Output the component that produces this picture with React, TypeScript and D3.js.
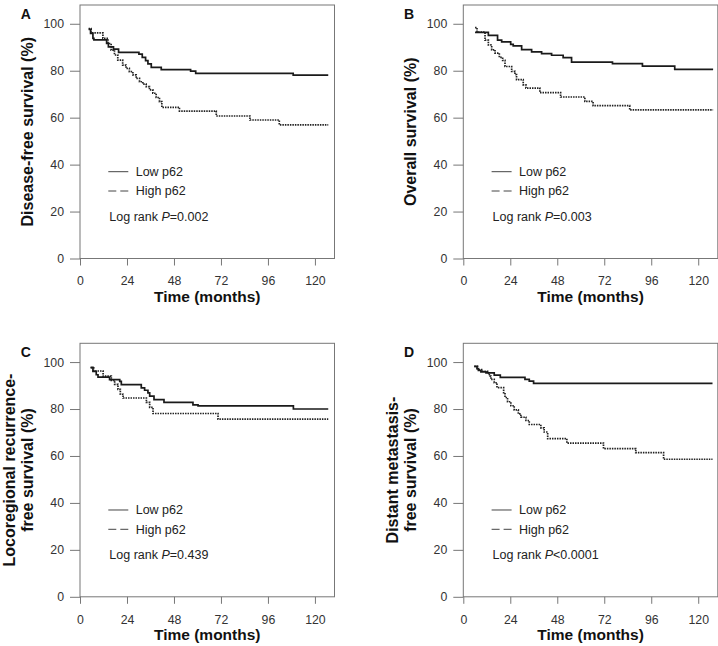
import React, { useEffect, useRef } from "react";
import * as d3 from "d3";

type Pt = [number, number];

// Kaplan-Meier steps: [months, survival %]
const dfsLow: Pt[] = [
  [4.4, 97.6], [5.4, 95.9], [6.6, 93.8], [7.1, 93.1], [13.6, 91.6], [14.5, 90.2],
  [17.1, 89.2], [19.7, 87.8], [30.1, 87.1], [31.8, 85.7], [33.5, 84.3], [34.7, 82.9],
  [36.4, 81.4], [41.5, 80.5], [56.5, 79.8], [59.1, 78.9], [108.9, 78.1], [126.8, 78.1],
];
const dfsHigh: Pt[] = [
  [4.4, 97.9], [5.7, 96.1], [11.7, 93.8], [14.3, 91.6], [15.9, 88.8], [17.6, 86.7],
  [19.3, 84.5], [21.8, 82.4], [23.5, 81], [25.2, 79.6], [27, 78.2], [28.7, 76.7],
  [30.4, 75.3], [32.1, 74.3], [33.8, 73.2], [35.5, 71.8], [37.2, 70.4], [38.9, 68.6],
  [40.6, 66.8], [41.8, 64.4], [50.8, 62.8], [69.6, 60.7], [86.8, 59], [101.8, 56.9],
  [126.8, 56.9],
];
const osLow: Pt[] = [
  [6, 96.3], [12.8, 95.1], [17.5, 93], [19.6, 92.3], [24.2, 91.2], [25.5, 90.6],
  [29.8, 89], [34.9, 88], [40, 87.3], [45.1, 86.6], [51, 85.6], [55.3, 83.7],
  [76.2, 83], [91.5, 82], [108, 80.6], [127.6, 80.6],
];
const osHigh: Pt[] = [
  [6, 98.4], [7, 96.5], [11.1, 93], [12.8, 91], [14.5, 88.9], [16.2, 87.5],
  [18.4, 85.7], [20.1, 84.4], [21.3, 81.8], [24.7, 79.7], [26.4, 78.3], [27.2, 76.2],
  [30.6, 74], [32, 72.6], [39.1, 70.7], [49.7, 68.8], [62.1, 66.9], [66.3, 65.1],
  [85, 63.3], [127.6, 63.3],
];
const lrfsLow: Pt[] = [
  [5.4, 97.8], [6.6, 96], [8.3, 94.6], [9.2, 93.6], [15.1, 92.5], [20.3, 91.8],
  [21.1, 90.4], [31.3, 89], [33, 88], [34.7, 86.9], [35.6, 85.5], [37.8, 84],
  [42.9, 82.8], [57.7, 81.8], [60.3, 81.3], [109, 80], [126.8, 80],
];
const lrfsHigh: Pt[] = [
  [5.4, 97.5], [7, 96.2], [11.8, 94], [16, 92.2], [17.7, 90.5], [19.4, 88.4],
  [20.6, 86.3], [22, 84.7], [33.9, 82.8], [35.6, 80.7], [37.3, 78.1], [70.5, 75.7],
  [126.8, 75.7],
];
const dmfsLow: Pt[] = [
  [5.6, 98.2], [7, 97.2], [7.7, 96.5], [9, 95.8], [11.6, 95.4], [15.8, 94.4],
  [18.9, 93.5], [31.5, 92.6], [33.7, 91.9], [35.9, 90.9], [127.3, 90.9],
];
const dmfsHigh: Pt[] = [
  [5.6, 98.2], [7.3, 96.8], [9.9, 96.1], [12.4, 95.4], [13.3, 94], [14.1, 92.6],
  [15.8, 91.2], [17.2, 89.1], [20.6, 87], [21.3, 84.9], [22.6, 83.1], [24.3, 81.4],
  [26, 79.6], [28.1, 77.9], [29.4, 76.5], [32, 75.1], [33.7, 73.4], [39.6, 72],
  [41.3, 70.2], [43.1, 67.4], [52.9, 65.5], [71.6, 63.1], [88.1, 61.4], [102.3, 58.6],
  [127.3, 58.6],
];

const panelLetters = ["A", "B", "C", "D"];
const yTitles = [
  ["Disease-free survival (%)"],
  ["Overall survival (%)"],
  ["Locoregional recurrence-", "free survival (%)"],
  ["Distant metastasis-", "free survival (%)"],
];
const pValues = ["=0.002", "=0.003", "=0.439", "<0.0001"];
const lowSeries = [dfsLow, osLow, lrfsLow, dmfsLow];
const highSeries = [dfsHigh, osHigh, lrfsHigh, dmfsHigh];
const legendLabels = ["Low p62", "High p62"];
const xTicks = [0, 24, 48, 72, 96, 120];
const yTicks = [0, 20, 40, 60, 80, 100];

const FONT = "'Liberation Sans', Arial, Helvetica, sans-serif";

export default function App() {
  const svgRef = useRef<SVGSVGElement>(null);

  useEffect(() => {
    if (!svgRef.current) return;
    const svg = d3.select(svgRef.current);
    svg.selectAll("*").remove();

    // grid of panels
    const colX = [80, 463.3];
    const rowY = [5, 343.3];
    const w = 254.5;
    const h = 253.5;

    const x = d3.scaleLinear().domain([0, 130]).range([0, w]);
    const y = d3.scaleLinear().domain([0, 108]).range([h, 0]);

    const line = d3
      .line<Pt>()
      .x((d) => x(d[0]))
      .y((d) => y(d[1]))
      .curve(d3.curveStepAfter);

    panelLetters.forEach((letter, i) => {
      const g = svg
        .append("g")
        .attr("transform", `translate(${colX[i % 2]},${rowY[Math.floor(i / 2)]})`);

      // axes
      const yAxis = g
        .append("g")
        .call(d3.axisLeft(y).tickValues(yTicks).tickSize(10).tickPadding(6));
      const xAxis = g
        .append("g")
        .attr("transform", `translate(0,${h})`)
        .call(d3.axisBottom(x).tickValues(xTicks).tickSize(7).tickPadding(11));

      [xAxis, yAxis].forEach((ax) => {
        ax.select(".domain").remove();
        ax.selectAll(".tick line").attr("stroke", "#777");
        ax.selectAll("text")
          .attr("fill", "#333")
          .style("font-size", "12.3px")
          .style("font-family", FONT);
      });

      // frame
      g.append("rect")
        .attr("width", w)
        .attr("height", h)
        .attr("fill", "none")
        .attr("stroke", "#777")
        .attr("stroke-width", 1);

      // curves
      g.append("path")
        .datum(highSeries[i])
        .attr("fill", "none")
        .attr("stroke", "#222")
        .attr("stroke-width", 1.7)
        .attr("stroke-dasharray", "1.5,1")
        .attr("d", line);

      g.append("path")
        .datum(lowSeries[i])
        .attr("fill", "none")
        .attr("stroke", "#1a1a1a")
        .attr("stroke-width", 1.7)
        .attr("d", line);

      // legend
      const lg = g.append("g").style("font-family", FONT).style("font-size", "12.5px");
      legendLabels.forEach((lab, j) => {
        const ly = 166.7 + j * 19.3;
        lg.append("line")
          .attr("x1", 28.3)
          .attr("x2", 48.3)
          .attr("y1", ly)
          .attr("y2", ly)
          .attr("stroke", "#444")
          .attr("stroke-width", 1)
          .attr("stroke-dasharray", j === 0 ? null : "8,4");
        lg.append("text")
          .attr("x", 55.7)
          .attr("y", ly + 4.3)
          .attr("fill", "#222")
          .text(lab);
      });
      const pt = lg.append("text").attr("x", 29.3).attr("y", 215.7).attr("fill", "#222");
      pt.append("tspan").text("Log rank ");
      pt.append("tspan").style("font-style", "italic").text("P");
      pt.append("tspan").text(pValues[i]);

      // panel letter
      g.append("text")
        .attr("x", -59.3)
        .attr("y", 14)
        .style("font-family", FONT)
        .style("font-size", "14px")
        .style("font-weight", "bold")
        .attr("fill", "#111")
        .text(letter);

      // x title
      g.append("text")
        .attr("x", w / 2)
        .attr("y", h + 43)
        .attr("text-anchor", "middle")
        .style("font-family", FONT)
        .style("font-size", "15.5px")
        .style("font-weight", "bold")
        .attr("fill", "#111")
        .text("Time (months)");

      // y title (one or two lines, last line nearest the axis)
      const lines = yTitles[i];
      lines.forEach((t, k) => {
        const bx = -47 - (lines.length - 1 - k) * 18.5;
        g.append("text")
          .attr("transform", `translate(${bx},${h / 2}) rotate(-90)`)
          .attr("text-anchor", "middle")
          .style("font-family", FONT)
          .style("font-size", "16px")
          .style("font-weight", "bold")
          .attr("fill", "#111")
          .text(t);
      });
    });
  }, []);

  return (
    <svg
      ref={svgRef}
      width={718}
      height={646}
      style={{ position: "absolute", left: 0, top: 0, background: "#fff" }}
    />
  );
}
